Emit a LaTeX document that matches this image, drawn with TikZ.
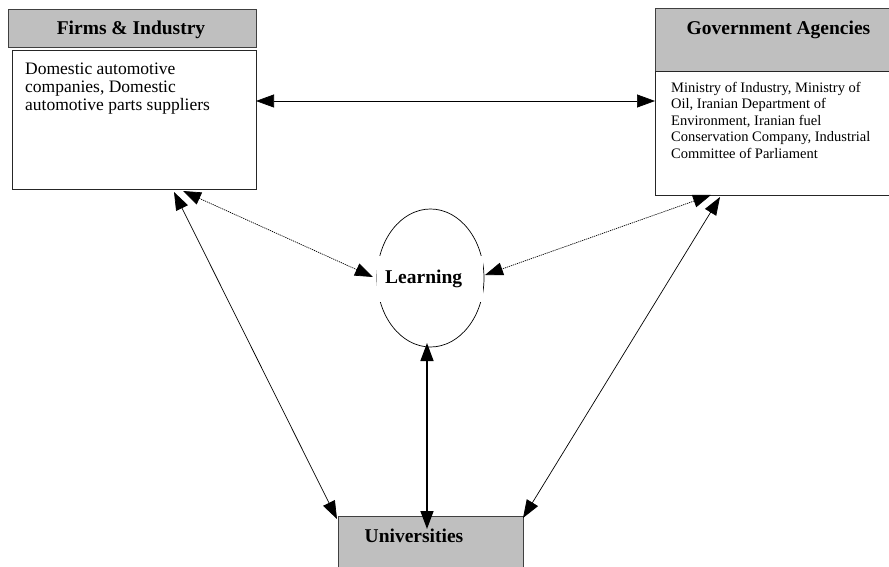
\documentclass[tikz,border=0pt]{standalone}
\usepackage{fontspec}
\setmainfont{Liberation Serif}
\usetikzlibrary{arrows.meta,shapes.geometric}
\begin{document}
\begin{tikzpicture}[x=1pt,y=-1pt,
  hdr/.style={draw=black!75,line width=0.9pt,fill=black!25,inner sep=0,anchor=north west},
  body/.style={draw=black!85,line width=0.8pt,fill=white,inner sep=0,anchor=north west},
  ttl/.style={font=\fontsize{19.5}{22}\selectfont\bfseries,inner sep=0,anchor=base},
  lnk/.style={line width=0.7pt,{Triangle[length=18pt,width=13pt]}-{Triangle[length=18pt,width=13pt]}},
  dotlnk/.style={lnk,draw=black,dash pattern=on 1.2pt off 0.9pt},
]
\useasboundingbox (0,0) rectangle (889,567);
% boxes
\node[hdr,minimum width=248pt,minimum height=38pt] (firmsH) at (8,9) {};
\node[body,minimum width=244pt,minimum height=139pt] (firms) at (12,50) {};
\node[hdr,minimum width=260pt,minimum height=63pt] (govH) at (655,8) {};
\node[body,minimum width=260pt,minimum height=124pt] (gov) at (655,71) {};
\node[hdr,minimum width=185pt,minimum height=70pt] (univ) at (338,516) {};
% titles
\node[ttl] (firmsT) at (131,35) {Firms \& Industry};
\node[ttl] (govT) at (778.5,35) {Government Agencies};
\node[ttl] (univT) at (414,542) {Universities};
% body texts
\node[anchor=north west,inner sep=0,align=left,font=\fontsize{17.5}{18}\selectfont] (firmsX) at (25,62.4)
  {Domestic automotive\\companies, Domestic\\automotive parts suppliers};
\node[anchor=north west,inner sep=0,align=left,font=\fontsize{14.5}{16.5}\selectfont] (govX) at (671,82)
  {Ministry of Industry, Ministry of\\Oil, Iranian Department of\\Environment, Iranian fuel\\Conservation Company, Industrial\\Committee of Parliament};
% learning
\node[ellipse,draw,line width=0.7pt,minimum width=107pt,minimum height=138pt,inner sep=0] (learn) at (430.5,278) {};
\node[fill=white,anchor=base west,text width=90pt,align=left,inner xsep=8pt,inner ysep=14.5pt,
      text height=13pt,text depth=4pt,font=\fontsize{19.5}{22}\selectfont\bfseries] (learnT) at (377,283) {Learning};
% connector ends
\coordinate (fR) at (256,101);
\coordinate (gL) at (655,101);
\coordinate (fB) at (174,192);
\coordinate (fD) at (183,191);
\coordinate (gB) at (720,197);
\coordinate (gD) at (711,195);
\coordinate (lL) at (373,277);
\coordinate (lR) at (485,275);
\coordinate (lB) at (427,343);
\coordinate (uT) at (427,529);
\coordinate (uL) at (337,519);
\coordinate (uR) at (523,518);
% connectors
\draw[lnk] (fR) -- (gL);
\draw[dotlnk] (fD) -- (lL);
\draw[dotlnk] (gD) -- (lR);
\draw[lnk] (fB) -- (uL);
\draw[lnk] (gB) -- (uR);
\draw[lnk,line width=1.4pt] (lB) -- (uT);
\end{tikzpicture}
\end{document}
